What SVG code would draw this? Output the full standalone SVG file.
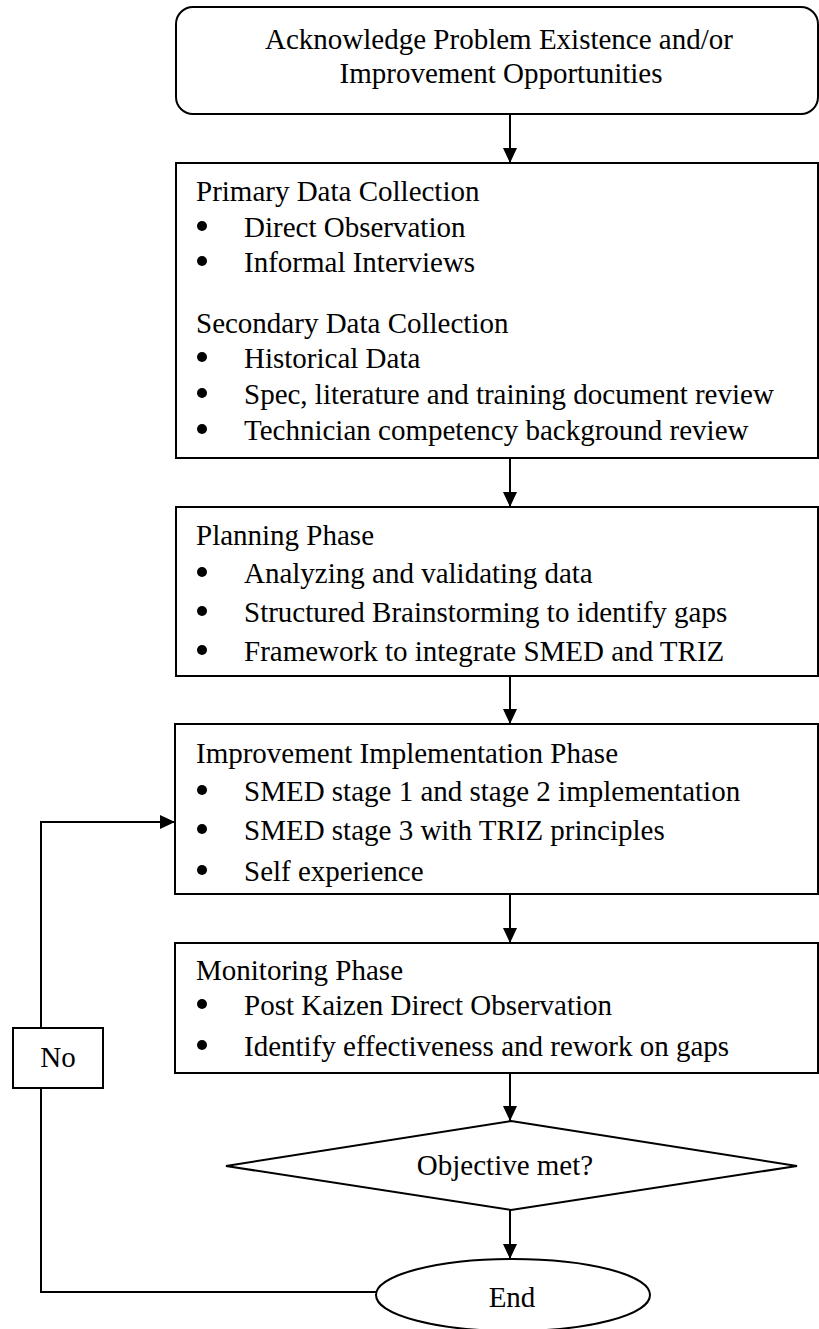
<svg xmlns="http://www.w3.org/2000/svg" width="819" height="1329" viewBox="0 0 819 1329">
<style>
.box{fill:#fff;stroke:#000;stroke-width:2}
.ln{fill:none;stroke:#000;stroke-width:2}
.dot{fill:#000}
text{font-family:"Liberation Serif","Times New Roman",serif;font-size:29px;fill:#000}
.c{text-anchor:middle}
</style>
<defs>
<marker id="ah" markerWidth="15" markerHeight="14" refX="15" refY="7" orient="auto" markerUnits="userSpaceOnUse">
<path d="M0,0 L15,7 L0,14 Z" fill="#000"/>
</marker>
</defs>
<g id="connectors">
<line class="ln" x1="510" y1="114" x2="510" y2="163" marker-end="url(#ah)"/>
<line class="ln" x1="510" y1="458" x2="510" y2="507" marker-end="url(#ah)"/>
<line class="ln" x1="510" y1="676" x2="510" y2="724" marker-end="url(#ah)"/>
<line class="ln" x1="510" y1="894" x2="510" y2="943" marker-end="url(#ah)"/>
<line class="ln" x1="510" y1="1073" x2="510" y2="1121" marker-end="url(#ah)"/>
<line class="ln" x1="510" y1="1210" x2="510" y2="1259" marker-end="url(#ah)"/>
<polyline class="ln" points="376,1292 41,1292 41,822 175,822" marker-end="url(#ah)"/>
</g>
<g id="start">
<rect class="box" x="176" y="7" width="642" height="107" rx="17" ry="17"/>
<text class="c" x="499" y="49">Acknowledge Problem Existence and/or</text>
<text class="c" x="501" y="83">Improvement Opportunities</text>
</g>
<g id="data-collection">
<rect class="box" x="176" y="163" width="642" height="295"/>
<text x="196" y="201">Primary Data Collection</text>
<circle class="dot" cx="202" cy="226" r="5"/><text x="244" y="237">Direct Observation</text>
<circle class="dot" cx="202" cy="261" r="5"/><text x="244" y="272">Informal Interviews</text>
<text x="196" y="333">Secondary Data Collection</text>
<circle class="dot" cx="202" cy="357" r="5"/><text x="244" y="368">Historical Data</text>
<circle class="dot" cx="202" cy="393" r="5"/><text x="244" y="404">Spec, literature and training document review</text>
<circle class="dot" cx="202" cy="429" r="5"/><text x="244" y="440">Technician competency background review</text>
</g>
<g id="planning">
<rect class="box" x="176" y="507" width="642" height="169"/>
<text x="196" y="545">Planning Phase</text>
<circle class="dot" cx="202" cy="572" r="5"/><text x="244" y="583">Analyzing and validating data</text>
<circle class="dot" cx="202" cy="611" r="5"/><text x="244" y="622">Structured Brainstorming to identify gaps</text>
<circle class="dot" cx="202" cy="650" r="5"/><text x="244" y="661">Framework to integrate SMED and TRIZ</text>
</g>
<g id="implementation">
<rect class="box" x="175" y="724" width="643" height="170"/>
<text x="196" y="763">Improvement Implementation Phase</text>
<circle class="dot" cx="202" cy="790" r="5"/><text x="244" y="801">SMED stage 1 and stage 2 implementation</text>
<circle class="dot" cx="202" cy="829" r="5"/><text x="244" y="840">SMED stage 3 with TRIZ principles</text>
<circle class="dot" cx="202" cy="870" r="5"/><text x="244" y="881">Self experience</text>
</g>
<g id="monitoring">
<rect class="box" x="175" y="943" width="643" height="130"/>
<text x="196" y="980">Monitoring Phase</text>
<circle class="dot" cx="202" cy="1004" r="5"/><text x="244" y="1015">Post Kaizen Direct Observation</text>
<circle class="dot" cx="202" cy="1045" r="5"/><text x="244" y="1056">Identify effectiveness and rework on gaps</text>
</g>
<g id="decision">
<polygon class="box" points="511,1121 797,1166 511,1210 226,1166"/>
<text class="c" x="505" y="1175">Objective met?</text>
</g>
<g id="no-label">
<rect class="box" x="13" y="1028" width="90" height="60"/>
<text class="c" x="58" y="1067">No</text>
</g>
<g id="end">
<ellipse class="box" cx="513" cy="1295" rx="137" ry="36"/>
<text class="c" x="512" y="1307">End</text>
</g>
</svg>
